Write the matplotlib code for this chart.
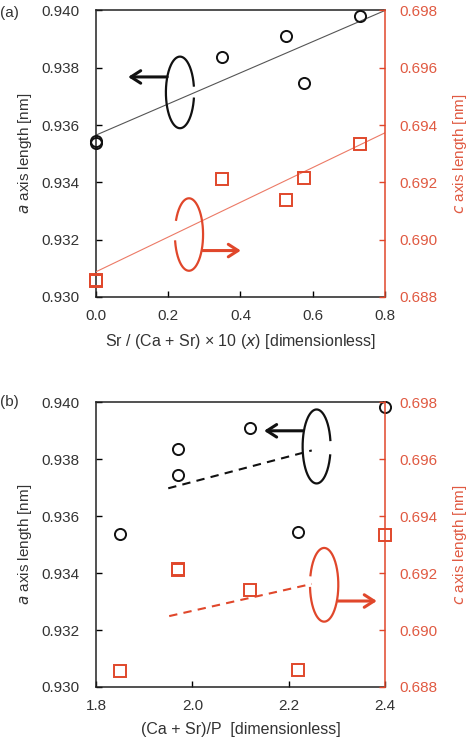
import numpy as np
import matplotlib.pyplot as plt

plt.rcParams['font.family'] = ['Liberation Sans', 'DejaVu Sans']

# sample data (same 6 samples in both panels)
sr_ratio = [0.0, 0.0, 0.35, 0.525, 0.575, 0.73]
cap_ratio = [1.85, 2.22, 1.97, 2.12, 1.97, 2.40]
a_len = [0.93537, 0.93546, 0.93837, 0.93910, 0.93746, 0.93982]
c_len = [0.68855, 0.68860, 0.69212, 0.69140, 0.69216, 0.69333]

# fit lines
fit_a_x = [0.0, 0.8]
fit_a_y = [0.93565, 0.94000]
fit_c_x = [0.0, 0.8]
fit_c_y = [0.68888, 0.69373]
dash_a_x = [1.95, 2.248]
dash_a_y = [0.93698, 0.93831]
dash_c_x = [1.952, 2.248]
dash_c_y = [0.69049, 0.69162]

a_ticks = [0.930, 0.932, 0.934, 0.936, 0.938, 0.940]
c_ticks = [0.688, 0.690, 0.692, 0.694, 0.696, 0.698]

red = '#E0472B'
red_txt = '#E05A42'
dark = '#333333'

fig = plt.figure(figsize=(4.75, 7.43), dpi=100)


def setup(ax, xlim, xticks, xlabel):
    ax2 = ax.twinx()
    ax.set_xlim(xlim)
    ax.set_ylim(0.930, 0.940)
    ax2.set_ylim(0.688, 0.698)
    ax.set_xticks(xticks)
    ax.set_xticklabels([f"{t:.1f}" for t in xticks])
    ax.set_yticks(a_ticks)
    ax.set_yticklabels([f"{t:.3f}" for t in a_ticks])
    ax2.set_yticks(c_ticks)
    ax2.set_yticklabels([f"{t:.3f}" for t in c_ticks])
    ax.tick_params(axis='y', direction='in', length=4, width=1, pad=12, labelsize=11, labelcolor=dark)
    ax.tick_params(axis='x', direction='in', length=4, width=1, pad=9, labelsize=11, labelcolor=dark)
    ax2.tick_params(axis='y', direction='in', length=4, width=1, pad=10, labelsize=11,
                    color=red, labelcolor=red_txt)
    for s in ['left', 'bottom', 'top']:
        ax.spines[s].set_linewidth(1.1)
        ax.spines[s].set_color('#222222')
    ax.spines['right'].set_visible(False)
    for s in ['left', 'bottom', 'top']:
        ax2.spines[s].set_visible(False)
    ax2.spines['right'].set_color(red)
    ax2.spines['right'].set_linewidth(1.1)
    ax.set_xlabel(xlabel, fontsize=11.5, color=dark, labelpad=6)
    ax.set_ylabel(r"$\it{a}$ axis length [nm]", fontsize=11, color=dark, labelpad=5)
    ax2.set_ylabel(r"$\it{c}$ axis length [nm]", fontsize=11, color=red_txt, labelpad=10)
    return ax2


def bracket(ax, center, w, h, gap, color, start, tip):
    # open ellipse (gap given in degrees) plus an arrow pointing to the axis it refers to
    t = np.deg2rad(np.linspace(gap[1], gap[0] + 360, 200))
    ax.plot(center[0] + w / 2 * np.cos(t), center[1] + h / 2 * np.sin(t), color=color, lw=1.6)
    ax.annotate('', xy=tip, xytext=start,
                arrowprops=dict(arrowstyle='->,head_length=0.7,head_width=0.45', color=color,
                                lw=2.2, shrinkA=0, shrinkB=0))


# panel (a)
ax = fig.add_axes([0.2021, 0.6003, 0.6084, 0.3856])
ax2 = setup(ax, (0.0, 0.8), [0.0, 0.2, 0.4, 0.6, 0.8],
            r"Sr / (Ca + Sr) × 10 ($\it{x}$) [dimensionless]")
ax.plot(fit_a_x, fit_a_y, color='#555555', lw=0.8)
ax2.plot(fit_c_x, fit_c_y, color='#EC7A66', lw=0.8)
ax.plot(sr_ratio, a_len, 'o', mfc='none', mec='#111111', ms=8, mew=1.4, clip_on=False, zorder=5)
ax2.plot(sr_ratio, c_len, 's', mfc='none', mec=red, ms=8, mew=1.4, clip_on=False, zorder=5)
bracket(ax, (0.2325, 0.93714), 0.078, 0.00250, (-10, 11), '#111111', (0.197, 0.93768), (0.089, 0.93768))
bracket(ax2, (0.2574, 0.69018), 0.078, 0.00253, (156, 191), red, (0.296, 0.68962), (0.401, 0.68962))
fig.text(0.0, 0.977, "(a)", fontsize=11, color=dark)

# panel (b)
ax = fig.add_axes([0.2021, 0.0754, 0.6084, 0.3831])
ax2 = setup(ax, (1.8, 2.4), [1.8, 2.0, 2.2, 2.4], "(Ca + Sr)/P  [dimensionless]")
ax.plot(dash_a_x, dash_a_y, color='#111111', lw=1.5, dashes=(4, 3))
ax2.plot(dash_c_x, dash_c_y, color=red, lw=1.5, dashes=(4, 3))
ax.plot(cap_ratio, a_len, 'o', mfc='none', mec='#111111', ms=8, mew=1.4, clip_on=False, zorder=5)
ax2.plot(cap_ratio, c_len, 's', mfc='none', mec=red, ms=8, mew=1.4, clip_on=False, zorder=5)
bracket(ax, (2.258, 0.93845), 0.058, 0.0026, (-14, 10), '#111111', (2.229, 0.9390), (2.149, 0.9390))
bracket(ax2, (2.2737, 0.69159), 0.0588, 0.00259, (165, 185), red, (2.302, 0.69102), (2.383, 0.69102))
fig.text(0.0, 0.453, "(b)", fontsize=11, color=dark)

plt.savefig("out.png", dpi=100)
